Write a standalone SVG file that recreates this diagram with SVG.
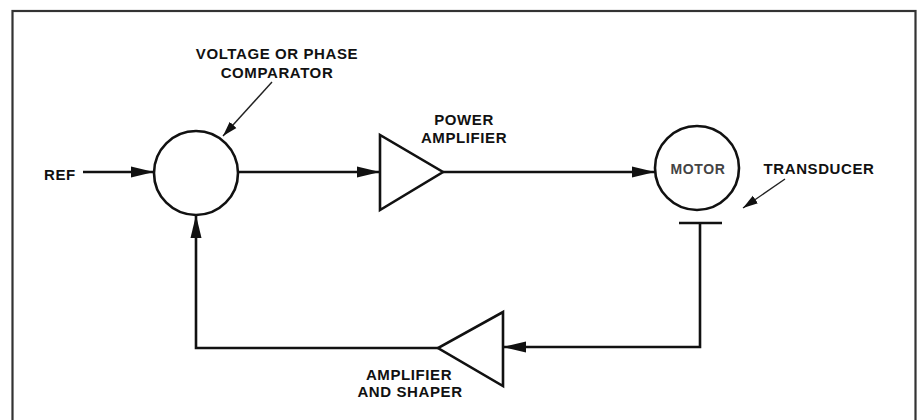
<svg xmlns="http://www.w3.org/2000/svg" width="918" height="420" viewBox="0 0 918 420">
<style>
.ln{fill:none;stroke:#111;stroke-width:2.6}
.thin{fill:none;stroke:#222;stroke-width:1.4}
.sh{fill:#fff;stroke:#111;stroke-width:2.6}
.t{font-family:"Liberation Sans",Arial,sans-serif;font-weight:bold;font-size:15px;fill:#111;letter-spacing:0.6px}
.m{font-family:"Liberation Sans",Arial,sans-serif;font-weight:bold;font-size:14px;fill:#444;letter-spacing:0.6px}
</style>
<defs>
<marker id="ah" markerWidth="24" markerHeight="14" refX="23" refY="7" orient="auto" markerUnits="userSpaceOnUse">
<path d="M0,1.5 L23,7 L0,12.5 Z" fill="#111"/>
</marker>
<marker id="as" markerWidth="16" markerHeight="12" refX="15" refY="6" orient="auto" markerUnits="userSpaceOnUse">
<path d="M0,1.5 L15,6 L0,10.5 Z" fill="#111"/>
</marker>
</defs>
<rect x="12.5" y="11" width="903" height="440" fill="none" stroke="#333" stroke-width="2.2"/>
<g id="connectors">
<line class="ln" x1="83" y1="172" x2="154" y2="172" marker-end="url(#ah)"/>
<line class="ln" x1="238" y1="172" x2="380" y2="172" marker-end="url(#ah)"/>
<line class="ln" x1="443" y1="172" x2="655" y2="172" marker-end="url(#ah)"/>
<polyline class="ln" points="700,223 700,347 503,347" marker-end="url(#ah)"/>
<polyline class="ln" points="438,348 196,348 196,215" marker-end="url(#ah)"/>
<line class="thin" x1="272" y1="82" x2="223" y2="136" marker-end="url(#as)"/>
<line class="thin" x1="785" y1="179" x2="743" y2="208" marker-end="url(#as)"/>
</g>
<g id="ref"><text class="t" x="44" y="180">REF</text></g>
<g id="comparator">
<circle class="sh" cx="196" cy="173" r="42"/>
<text class="t" x="277" y="59" text-anchor="middle">VOLTAGE OR PHASE</text>
<text class="t" x="277" y="78" text-anchor="middle">COMPARATOR</text>
</g>
<g id="power-amplifier">
<polygon class="sh" points="380,135 380,210 443,172"/>
<text class="t" x="464" y="125" text-anchor="middle">POWER</text>
<text class="t" x="464" y="143" text-anchor="middle">AMPLIFIER</text>
</g>
<g id="motor">
<circle class="sh" cx="697" cy="168" r="42"/>
<text class="m" x="698" y="174" text-anchor="middle">MOTOR</text>
</g>
<g id="transducer">
<line class="ln" x1="679" y1="223" x2="722" y2="223"/>
<text class="t" x="819" y="174" text-anchor="middle">TRANSDUCER</text>
</g>
<g id="amplifier-shaper">
<polygon class="sh" points="503,312 503,386 438,348"/>
<text class="t" x="409" y="380" text-anchor="middle">AMPLIFIER</text>
<text class="t" x="410" y="397" text-anchor="middle">AND SHAPER</text>
</g>
</svg>
